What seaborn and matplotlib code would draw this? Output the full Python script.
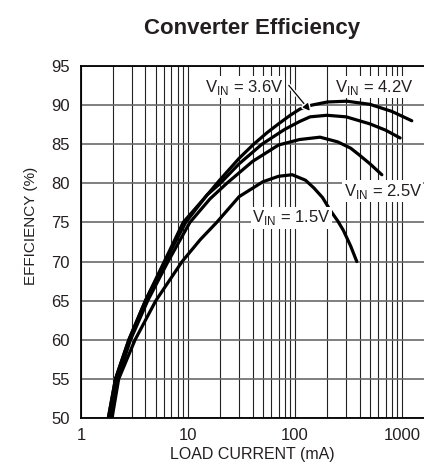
import pandas as pd
import seaborn as sns
import matplotlib.pyplot as plt
import matplotlib.patheffects as pe

# values (load current in mA, efficiency in %)
i_42 = [1.8, 2.1, 2.8, 4.0, 6.0, 9.0, 14, 20, 30, 41, 55, 70, 90, 111, 143, 200, 304, 500, 800, 1230]
e_42 = [50, 55, 60, 65, 70, 75, 78, 80.5, 83.2, 85, 86.5, 87.6, 88.7, 89.5, 90.0, 90.4, 90.5, 90.1, 89.2, 88.0]

i_36 = [1.8, 2.1, 2.8, 4.0, 6.1, 9.5, 15, 20, 30, 49, 80, 110, 138, 198, 300, 500, 700, 957]
e_36 = [50, 55, 60, 65, 70, 75, 78.5, 80, 82.5, 85, 86.9, 87.9, 88.5, 88.7, 88.5, 87.6, 86.8, 85.8]

i_25 = [1.9, 2.2, 2.9, 4.2, 6.5, 10.4, 16, 23, 40, 70, 110, 171, 250, 330, 400, 500, 646]
e_25 = [50, 55, 60, 65, 70, 75, 78, 80, 82.8, 84.9, 85.6, 85.9, 85.3, 84.5, 83.6, 82.5, 81.1]

i_15 = [1.95, 2.25, 3.2, 5.0, 8.8, 13, 18.5, 30, 50, 70, 94, 125, 150, 180, 212, 250, 282, 330, 377]
e_15 = [50, 55, 60, 65, 70, 72.8, 75, 78.3, 80.2, 80.9, 81.1, 80.4, 79.4, 78.2, 76.6, 75.2, 74.0, 72.0, 70.0]

series = ["4.2V", "3.6V", "2.5V", "1.5V"]
x_ticks = [1, 10, 100, 1000]
y_ticks = [50, 55, 60, 65, 70, 75, 80, 85, 90, 95]

frames = []
for name, i, e in zip(series, [i_42, i_36, i_25, i_15], [e_42, e_36, e_25, e_15]):
    frames.append(pd.DataFrame({"current": i, "eff": e, "vin": name}))
df = pd.concat(frames, ignore_index=True)

sns.set_style("white")
plt.rcParams["font.family"] = ["Liberation Sans", "DejaVu Sans"]
plt.rcParams["mathtext.fontset"] = "custom"
plt.rcParams["mathtext.rm"] = "Liberation Sans"
plt.rcParams["text.color"] = "#231f20"
plt.rcParams["axes.labelcolor"] = "#231f20"
plt.rcParams["xtick.color"] = "#231f20"
plt.rcParams["ytick.color"] = "#231f20"

fig = plt.figure(figsize=(4.24, 4.72), dpi=100)
ax = fig.add_axes([81 / 424, 1 - 418 / 472, 343 / 424, 352 / 472])

sns.lineplot(data=df, x="current", y="eff", hue="vin", units="vin",
             estimator=None, sort=False, palette=["black"] * 4,
             lw=2.3, legend=False, ax=ax, zorder=3)

ax.set_xscale("log")
ax.set_xlim(1, 1600)
ax.set_ylim(50, 95)
ax.set_xticks(x_ticks)
ax.set_xticklabels([str(v) for v in x_ticks])
ax.set_yticks(y_ticks)
ax.tick_params(axis="both", which="both", length=0, labelsize=12)
ax.tick_params(axis="y", pad=8)
ax.tick_params(axis="x", pad=7)
ax.grid(True, axis="x", which="both", color="#222222", lw=0.8)
ax.grid(True, axis="y", which="major", color="#6a6a6a", lw=1.2)
for s in ["left", "bottom", "top"]:
    ax.spines[s].set_color("black")
    ax.spines[s].set_linewidth(1.3)
ax.spines["right"].set_visible(False)

ax.set_xlabel("LOAD CURRENT (mA)", fontsize=11.5, labelpad=3)
ax.set_ylabel("EFFICIENCY (%)", fontsize=11)
ax.yaxis.set_label_coords(-0.125, 0.545)
ax.set_title("Converter Efficiency", fontsize=16, fontweight="bold", pad=23)

box = dict(facecolor="white", edgecolor="none", pad=1)
lbl = dict(fontsize=12, ha="center", va="center", bbox=box, zorder=5)
ax.text(33.4, 92.3, r"V$_{\mathregular{IN}}$ = 3.6V", **lbl)
ax.text(547, 92.3, r"V$_{\mathregular{IN}}$ = 4.2V", **lbl)
ax.text(660, 79.0, r"V$_{\mathregular{IN}}$ = 2.5V", **lbl)
ax.text(91.8, 75.6, r"V$_{\mathregular{IN}}$ = 1.5V", **lbl)

ax.annotate("", xy=(143, 89.0), xytext=(84, 92.8),
            arrowprops=dict(arrowstyle="-|>", color="black", lw=0.9,
                            mutation_scale=10,
                            path_effects=[pe.withStroke(linewidth=3, foreground="white")]),
            zorder=6)

plt.savefig("out.png", dpi=100)
